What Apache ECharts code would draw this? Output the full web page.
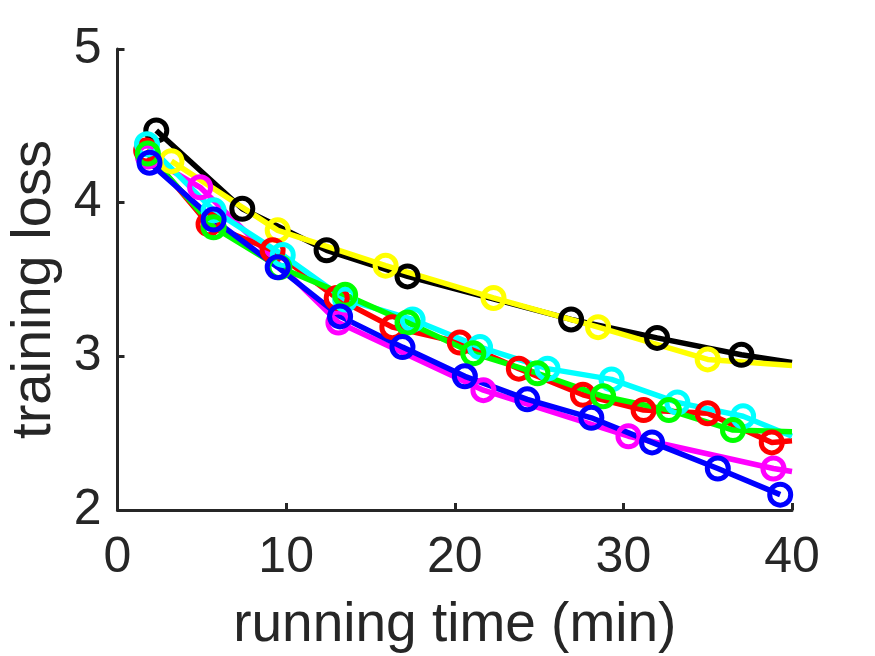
<!DOCTYPE html>
<html>
<head>
<meta charset="utf-8">
<script src="https://cdn.jsdelivr.net/npm/echarts@6/dist/echarts.min.js"></script>
<style>
    html, body { margin: 0; padding: 0; background: #fff; }
    #lossChart { width: 875px; height: 656px; }
</style>
</head>
<body>
<div id="lossChart"></div>
<script>
// 坐标轴刻度
var xTicks = [0, 10, 20, 30, 40];
var yTicks = [2, 3, 4, 5];

// 各条曲线的数据 (x: 分钟, y: 训练损失), 最后一点在 x=40 处不画圆圈
var blackX = [2.3, 7.4, 12.4, 17.2, 26.9, 32.0, 37.0, 40];
var blackY = [4.47, 3.96, 3.69, 3.52, 3.24, 3.12, 3.01, 2.96];

var yellowX = [3.2, 9.5, 15.9, 22.3, 28.5, 35.0, 40];
var yellowY = [4.27, 3.82, 3.59, 3.38, 3.19, 2.98, 2.94];

var redX = [1.7, 5.4, 9.2, 13.0, 16.3, 20.3, 23.8, 27.6, 31.2, 35.0, 38.8, 40];
var redY = [4.34, 3.86, 3.69, 3.38, 3.19, 3.09, 2.92, 2.75, 2.65, 2.63, 2.44, 2.45];

var cyanX = [1.75, 5.7, 9.8, 13.5, 17.5, 21.5, 25.5, 29.3, 33.2, 37.1, 40];
var cyanY = [4.38, 3.95, 3.66, 3.37, 3.24, 3.06, 2.92, 2.85, 2.70, 2.61, 2.48];

var greenX = [1.8, 5.7, 9.6, 13.5, 17.2, 21.1, 24.9, 28.8, 32.7, 36.5, 40];
var greenY = [4.32, 3.84, 3.58, 3.40, 3.22, 3.02, 2.89, 2.74, 2.65, 2.52, 2.51];

var magentaX = [1.8, 4.9, 13.1, 21.7, 30.3, 38.9, 40];
var magentaY = [4.30, 4.10, 3.22, 2.78, 2.48, 2.27, 2.25];

var blueX = [1.9, 5.7, 9.5, 13.2, 16.9, 20.6, 24.3, 28.1, 31.7, 35.6, 39.3];
var blueY = [4.26, 3.89, 3.58, 3.26, 3.06, 2.87, 2.72, 2.60, 2.44, 2.27, 2.10];

var axisColor = '#262626';
var fontFamily = "'Liberation Sans', Arial, sans-serif";

// 生成一条带空心圆圈的折线
function makeSeries(name, color, xs, ys) {
    var data = xs.map(function (x, i) {
        var item = { value: [x, ys[i]] };
        if (x >= 40) {
            item.symbol = 'none'; // 末端只画线
        }
        return item;
    });
    return {
        name: name,
        type: 'line',
        data: data,
        symbol: 'circle',
        symbolSize: 21,
        showAllSymbol: true,
        lineStyle: { color: color, width: 5.5 },
        itemStyle: { color: 'rgba(0,0,0,0)', borderColor: color, borderWidth: 5 },
        emphasis: { disabled: true },
        clip: true
    };
}

function chartRender() {
    var lossChart = echarts.init(document.getElementById('lossChart'));

    var option = {
        animation: false,
        backgroundColor: '#fff',
        grid: {
            left: 117.5,
            right: 83,
            top: 49,
            bottom: 146,
            containLabel: false,
            outerBoundsMode: 'none' // 不让坐标轴名称挤压绘图区
        },
        xAxis: {
            type: 'value',
            min: xTicks[0],
            max: xTicks[xTicks.length - 1],
            interval: 10,
            name: 'running time (min)',
            nameLocation: 'middle',
            nameGap: 88,
            nameTextStyle: { color: axisColor, fontSize: 55, fontFamily: fontFamily },
            axisLine: { show: true, onZero: false, lineStyle: { color: axisColor, width: 3 } },
            axisTick: { show: true, inside: true, length: 7, lineStyle: { color: axisColor, width: 3 } },
            axisLabel: { color: axisColor, fontSize: 50, margin: 23, fontFamily: fontFamily },
            splitLine: { show: false }
        },
        yAxis: {
            type: 'value',
            min: yTicks[0],
            max: yTicks[yTicks.length - 1],
            interval: 1,
            name: 'training loss',
            nameLocation: 'middle',
            nameGap: 46,
            nameTextStyle: { color: axisColor, fontSize: 56, fontFamily: fontFamily, padding: [0, 20, 0, 0] },
            axisLine: { show: true, onZero: false, lineStyle: { color: axisColor, width: 3 } },
            axisTick: { show: true, inside: true, length: 7, lineStyle: { color: axisColor, width: 3 } },
            axisLabel: { color: axisColor, fontSize: 50, margin: 16, fontFamily: fontFamily },
            splitLine: { show: false }
        },
        // 绘制顺序: 洋红在最下, 蓝色在最上
        series: [
            makeSeries('magenta', '#FF00FF', magentaX, magentaY),
            makeSeries('black', '#000000', blackX, blackY),
            makeSeries('yellow', '#FFFF00', yellowX, yellowY),
            makeSeries('red', '#FF0000', redX, redY),
            makeSeries('cyan', '#00FFFF', cyanX, cyanY),
            makeSeries('green', '#00FF00', greenX, greenY),
            makeSeries('blue', '#0000FF', blueX, blueY)
        ]
    };

    lossChart.setOption(option);
}

chartRender();
</script>
</body>
</html>
